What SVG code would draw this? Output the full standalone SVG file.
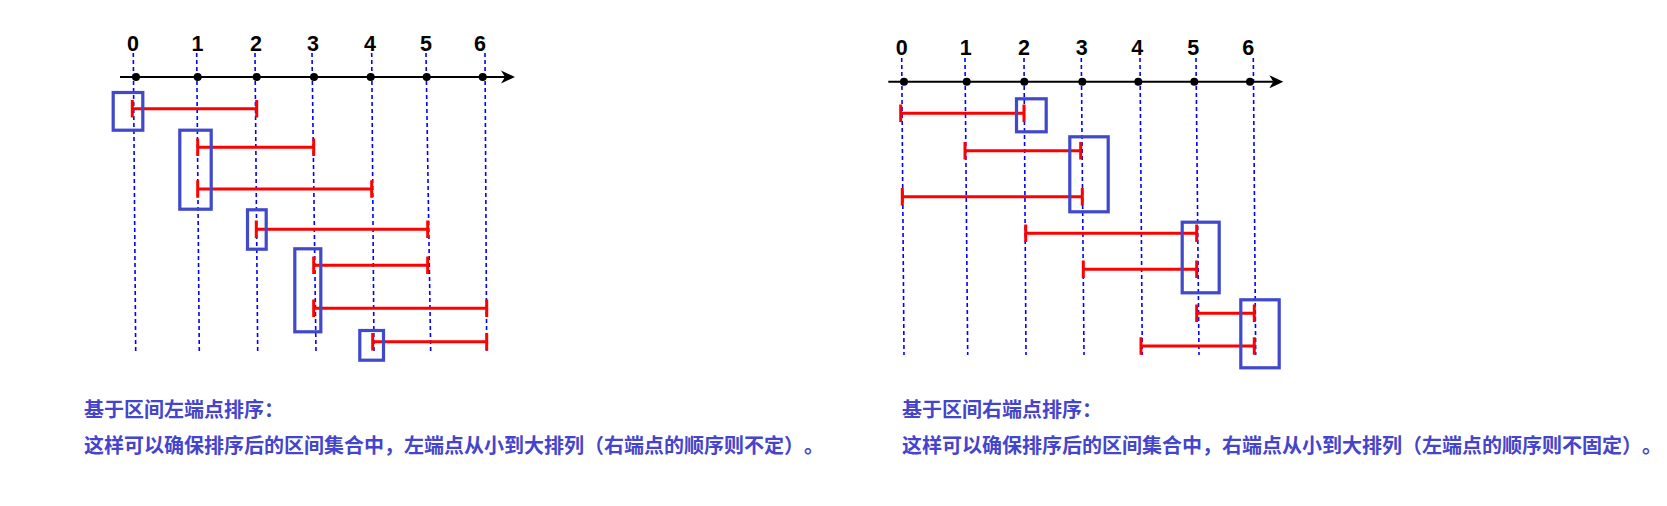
<svg xmlns="http://www.w3.org/2000/svg" width="1667" height="506" viewBox="0 0 1667 506">
<style>
.lbl{font-family:"Liberation Sans",Arial,sans-serif;font-size:21.5px;font-weight:bold;fill:#000;text-anchor:middle}
.guide{stroke:#0000FF;stroke-width:1.6;stroke-dasharray:4 3;fill:none}
.axis{stroke:#000;stroke-width:2;fill:none}
.dot{fill:#000}
.iv{stroke:#FF0000;stroke-width:3;fill:none}
.box{stroke:#4048CC;stroke-width:3.2;fill:none}
.note{font-family:"Noto Sans CJK SC","Noto Sans",sans-serif;font-size:20px;font-weight:bold;fill:#4444CC;text-spacing-trim:space-all}
</style>
<rect width="1667" height="506" fill="#FFFFFF"/>

<g id="connectors">
  <g id="guides-left">
    <line class="guide" x1="133.3" y1="53" x2="135.7" y2="352"/>
    <line class="guide" x1="196.7" y1="53" x2="199.3" y2="352"/>
    <line class="guide" x1="255" y1="53" x2="257.7" y2="352"/>
    <line class="guide" x1="312" y1="53" x2="316" y2="352"/>
    <line class="guide" x1="371.7" y1="53" x2="374" y2="352"/>
    <line class="guide" x1="426" y1="53" x2="430.7" y2="352"/>
    <line class="guide" x1="485" y1="53" x2="486.7" y2="352"/>
  </g>
  <g id="guides-right">
    <line class="guide" x1="901.7" y1="58" x2="904" y2="355"/>
    <line class="guide" x1="965" y1="58" x2="967.7" y2="355"/>
    <line class="guide" x1="1024" y1="58" x2="1026" y2="355"/>
    <line class="guide" x1="1081.3" y1="58" x2="1084" y2="355"/>
    <line class="guide" x1="1140" y1="58" x2="1142.3" y2="355"/>
    <line class="guide" x1="1196" y1="58" x2="1199" y2="355"/>
    <line class="guide" x1="1253.3" y1="58" x2="1255.7" y2="355"/>
  </g>
</g>

<g id="axis-left">
  <line class="axis" x1="120" y1="77" x2="505" y2="77"/>
  <path d="M515 77 L501 70.5 L505 77 L501 83.5 Z" fill="#000"/>
  <circle class="dot" cx="136" cy="77" r="4"/>
  <circle class="dot" cx="197.7" cy="77" r="4"/>
  <circle class="dot" cx="256.7" cy="77" r="4"/>
  <circle class="dot" cx="314" cy="77" r="4"/>
  <circle class="dot" cx="370.7" cy="77" r="4"/>
  <circle class="dot" cx="426.7" cy="77" r="4"/>
  <circle class="dot" cx="482.7" cy="77" r="4"/>
  <text class="lbl" x="133" y="50.5">0</text>
  <text class="lbl" x="197.5" y="50.5">1</text>
  <text class="lbl" x="256" y="50.5">2</text>
  <text class="lbl" x="313" y="50.5">3</text>
  <text class="lbl" x="370" y="50.5">4</text>
  <text class="lbl" x="426" y="50.5">5</text>
  <text class="lbl" x="480" y="50.5">6</text>
</g>

<g id="intervals-left">
  <path class="iv" d="M132.3 108.7 H256.7 M132.3 100 v17.5 M256.7 100 v17.5"/>
  <path class="iv" d="M197.7 147.3 H313.7 M197.7 138.6 v17.5 M313.7 138.6 v17.5"/>
  <path class="iv" d="M197.7 189 H371.7 M197.7 180.3 v17.5 M371.7 180.3 v17.5"/>
  <path class="iv" d="M256.3 229.3 H427.7 M256.3 220.6 v17.5 M427.7 220.6 v17.5"/>
  <path class="iv" d="M313.7 265.3 H427.7 M313.7 256.6 v17.5 M427.7 256.6 v17.5"/>
  <path class="iv" d="M313.7 308.3 H486.7 M313.7 299.6 v17.5 M486.7 299.6 v17.5"/>
  <path class="iv" d="M372.7 341.7 H486.7 M372.7 333 v17.5 M486.7 333 v17.5"/>
</g>

<g id="boxes-left">
  <rect class="box" x="113.2" y="92.5" width="29.6" height="37.7"/>
  <rect class="box" x="179.8" y="130.2" width="31.4" height="79"/>
  <rect class="box" x="247.5" y="209.8" width="18.7" height="39.4"/>
  <rect class="box" x="294.8" y="248.8" width="26" height="83"/>
  <rect class="box" x="359.8" y="330.5" width="23.7" height="29.7"/>
</g>

<g id="axis-right">
  <line class="axis" x1="888.3" y1="81.7" x2="1273" y2="81.7"/>
  <path d="M1283.3 81.7 L1269.3 75.2 L1273.3 81.7 L1269.3 88.2 Z" fill="#000"/>
  <circle class="dot" cx="904" cy="81.7" r="4"/>
  <circle class="dot" cx="966.7" cy="81.7" r="4"/>
  <circle class="dot" cx="1024.3" cy="81.7" r="4"/>
  <circle class="dot" cx="1082.3" cy="81.7" r="4"/>
  <circle class="dot" cx="1138.3" cy="81.7" r="4"/>
  <circle class="dot" cx="1194.3" cy="81.7" r="4"/>
  <circle class="dot" cx="1250" cy="81.7" r="4"/>
  <text class="lbl" x="901.7" y="55">0</text>
  <text class="lbl" x="965.8" y="55">1</text>
  <text class="lbl" x="1024" y="55">2</text>
  <text class="lbl" x="1081.7" y="55">3</text>
  <text class="lbl" x="1137.3" y="55">4</text>
  <text class="lbl" x="1193.3" y="55">5</text>
  <text class="lbl" x="1248.3" y="55">6</text>
</g>

<g id="intervals-right">
  <path class="iv" d="M900.7 113.3 H1024 M900.7 104.6 v17.5 M1024 104.6 v17.5"/>
  <path class="iv" d="M965 150.7 H1080.7 M965 142 v17.5 M1080.7 142 v17.5"/>
  <path class="iv" d="M902.3 196.7 H1082.3 M902.3 188 v17.5 M1082.3 188 v17.5"/>
  <path class="iv" d="M1025.7 233.3 H1196.7 M1025.7 224.6 v17.5 M1196.7 224.6 v17.5"/>
  <path class="iv" d="M1083.3 269.3 H1196.7 M1083.3 260.6 v17.5 M1196.7 260.6 v17.5"/>
  <path class="iv" d="M1196.7 313.3 H1254.3 M1196.7 304.6 v17.5 M1254.3 304.6 v17.5"/>
  <path class="iv" d="M1141 346 H1254.3 M1141 337.3 v17.5 M1254.3 337.3 v17.5"/>
</g>

<g id="boxes-right">
  <rect class="box" x="1016.5" y="98.8" width="29.7" height="33"/>
  <rect class="box" x="1069.8" y="136.8" width="38.4" height="75"/>
  <rect class="box" x="1182.2" y="222.2" width="37" height="70.6"/>
  <rect class="box" x="1240.8" y="299.8" width="38.4" height="68"/>
</g>

<g id="note-left">
  <text class="note" x="84" y="417">基于区间左端点排序：</text>
  <text class="note" x="84" y="453">这样可以确保排序后的区间集合中，左端点从小到大排列（右端点的顺序则不定）。</text>
</g>
<g id="note-right">
  <text class="note" x="902" y="417">基于区间右端点排序：</text>
  <text class="note" x="902" y="453">这样可以确保排序后的区间集合中，右端点从小到大排列（左端点的顺序则不固定）。</text>
</g>
</svg>
